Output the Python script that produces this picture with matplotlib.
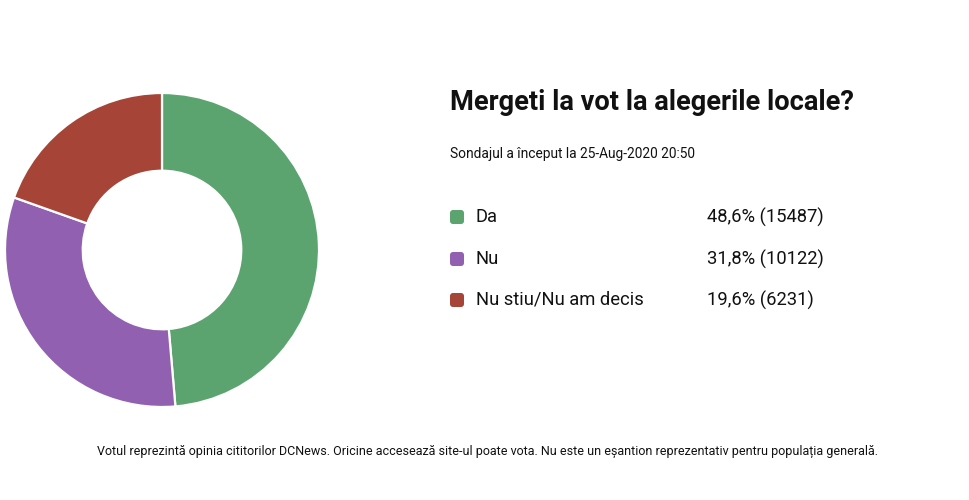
import matplotlib.pyplot as plt
from matplotlib.patches import FancyBboxPatch

plt.rcParams['font.family'] = ['Roboto', 'DejaVu Sans']

labels = ['Da', 'Nu', 'Nu stiu/Nu am decis']
votes = [15487, 10122, 6231]
percents = ['48,6%', '31,8%', '19,6%']
colors = ['#5ca46f', '#9260b1', '#a64537']

title = 'Mergeti la vot la alegerile locale?'
subtitle = 'Sondajul a început la 25-Aug-2020 20:50'
footer = ('Votul reprezintă opinia cititorilor DCNews. Oricine accesează site-ul poate vota. '
          'Nu este un eșantion reprezentativ pentru populația generală.')

W, H = 970, 500
fig = plt.figure(figsize=(W / 100, H / 100), dpi=100)

# overlay axes in pixel coords (y down) for texts and legend
ov = fig.add_axes([0, 0, 1, 1])
ov.set_xlim(0, W)
ov.set_ylim(H, 0)
ov.axis('off')

# donut
cx, cy, r = 162, 250, 157
ax = fig.add_axes([(cx - r) / W, (H - cy - r) / H, 2 * r / W, 2 * r / H])
ax.pie(votes, colors=colors, startangle=90, counterclock=False, radius=1,
       wedgeprops=dict(width=0.495, edgecolor='white', linewidth=1.6))
ax.set_xlim(-1, 1)
ax.set_ylim(-1, 1)
ax.set_aspect('equal')
ax.axis('off')

ov.text(450, 102, title, fontsize=19.6, fontweight='bold', va='center', ha='left', color='#111111')
ov.text(450, 154, subtitle, fontsize=9.9, va='center', ha='left', color='#111111')

rows_y = [217, 259, 300]
for y, lab, v, p, c in zip(rows_y, labels, votes, percents, colors):
    ov.add_patch(FancyBboxPatch((450, y - 7), 14, 14, boxstyle='round,pad=0,rounding_size=3',
                                facecolor=c, edgecolor='none'))
    ov.text(476, y, lab, fontsize=13.2, va='center', ha='left', color='#111111')
    ov.text(707, y, f'{p} ({v})', fontsize=13.2, va='center', ha='left', color='#111111')

ov.text(488, 451, footer, fontsize=9.0, va='center', ha='center', color='#111111')

fig.savefig('out.png', dpi=100, facecolor='white')
